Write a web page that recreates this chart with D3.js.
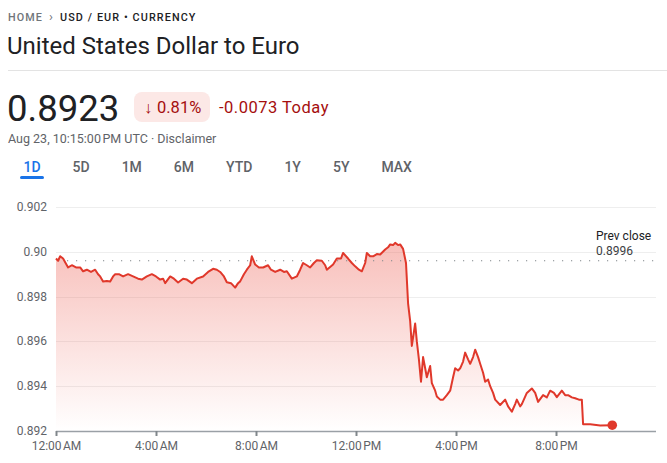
<!DOCTYPE html>
<html>
<head>
<meta charset="utf-8">
<script src="https://cdn.jsdelivr.net/npm/d3@7"></script>
<style>
  html, body { margin: 0; padding: 0; background: #fff; }
  svg { display: block; font-family: Roboto, Arial, sans-serif; }
</style>
</head>
<body>
<svg id="chart" width="667" height="463"></svg>
<script>
// ---- Data ----
const minutes = [0,5,10,17,29,38,48,58,65,74,84,94,101,106,113,122,130,137,142,151,161,173,185,197,206,218,230,240,250,257,262,274,283,293,305,314,326,338,353,365,377,386,394,403,410,420,430,437,442,451,458,466,470,478,487,497,509,516,526,538,547,554,566,578,586,593,602,610,619,626,638,646,650,665,674,684,689,701,710,718,727,734,742,746,754,761,770,778,790,797,802,809,814,821,826,833,840,845,850,854,862,866,871,876,881,886,890,898,902,910,914,922,929,938,946,953,958,965,970,977,982,989,994,1001,1006,1013,1018,1025,1030,1037,1042,1049,1054,1066,1078,1085,1094,1102,1106,1114,1118,1130,1142,1150,1157,1169,1178,1186,1195,1202,1214,1222,1229,1238,1246,1255,1262,1265,1282,1306,1335];
const rates = [0.8997,0.8996,0.8998,0.8997,0.8993,0.8994,0.8993,0.8993,0.89913,0.8992,0.8991,0.8992,0.8990,0.8989,0.89867,0.8987,0.89867,0.8989,0.8990,0.8990,0.8989,0.8990,0.8989,0.8988,0.89876,0.8989,0.8990,0.8989,0.89876,0.8988,0.8986,0.8989,0.8988,0.89863,0.8988,0.89876,0.8986,0.8988,0.8989,0.8991,0.89924,0.8992,0.8991,0.8989,0.89864,0.8986,0.8984,0.8986,0.89868,0.8990,0.8992,0.8994,0.8998,0.89943,0.8993,0.8993,0.8994,0.8992,0.8991,0.8992,0.8991,0.89913,0.8988,0.8989,0.8992,0.8995,0.8994,0.8993,0.8995,0.89962,0.8996,0.8994,0.8992,0.89943,0.8997,0.8997,0.89995,0.8997,0.8995,0.89935,0.8992,0.89913,0.8995,0.89995,0.8998,0.8998,0.8999,0.89988,0.9001,0.9002,0.90033,0.9003,0.9004,0.9003,0.90033,0.90013,0.8995,0.8977,0.8969,0.8958,0.8968,0.8960,0.8952,0.8942,0.8953,0.8948,0.8944,0.8949,0.89414,0.8938,0.89354,0.8934,0.8934,0.8936,0.8938,0.8944,0.8948,0.8947,0.8948,0.8951,0.8955,0.8952,0.8950,0.8953,0.89563,0.8953,0.8950,0.8946,0.8942,0.8943,0.8940,0.8937,0.8934,0.89316,0.8934,0.8931,0.89286,0.8932,0.8934,0.8931,0.8932,0.8937,0.8939,0.8937,0.8933,0.8936,0.8935,0.8938,0.8937,0.89351,0.8938,0.8936,0.8936,0.8935,0.89346,0.8934,0.8934,0.8923,0.8923,0.89225,0.89226];
const yTicks = [0.892, 0.894, 0.896, 0.898, 0.900, 0.902];
const yTickLabels = ["0.892", "0.894", "0.896", "0.898", "0.90", "0.902"];
const xTicks = [0, 240, 480, 720, 960, 1200];
const xTickLabels = ["12:00\u202FAM", "4:00\u202FAM", "8:00\u202FAM", "12:00\u202FPM", "4:00\u202FPM", "8:00\u202FPM"];
const prevClose = 0.8996;
const ranges = ["1D", "5D", "1M", "6M", "YTD", "1Y", "5Y", "MAX"];

const data = minutes.map((m, i) => ({ m, v: rates[i] }));

const svg = d3.select("#chart");
const red = "#e0382b";

// ---- Header ----
const bc = svg.append("text").attr("x", 8).attr("y", 21)
  .attr("font-size", 10.8).attr("font-weight", 500).attr("letter-spacing", 1.1);
bc.append("tspan").attr("fill", "#70757a").text("HOME");
bc.append("tspan").attr("fill", "#70757a").attr("dx", 6).attr("font-size", 13).attr("font-weight", 400).text("›");
bc.append("tspan").attr("fill", "#202124").attr("dx", 6).text("USD / EUR • CURRENCY");

svg.append("text").attr("x", 7).attr("y", 54).attr("font-size", 24)
  .attr("fill", "#202124").text("United States Dollar to Euro");

svg.append("line").attr("x1", 8).attr("x2", 667).attr("y1", 70.5).attr("y2", 70.5)
  .attr("stroke", "#e3e3e3");

svg.append("text").attr("x", 7).attr("y", 121).attr("font-size", 36.5)
  .attr("fill", "#202124").text("0.8923");

svg.append("rect").attr("x", 134).attr("y", 92).attr("width", 76).attr("height", 30)
  .attr("rx", 8).attr("fill", "#fce8e6");
svg.append("text").attr("x", 144).attr("y", 113).attr("font-size", 16.5).attr("font-weight", 700)
  .attr("fill", "#a50e0e").text("\u2193");
svg.append("text").attr("x", 157).attr("y", 113).attr("font-size", 16.5)
  .attr("fill", "#a50e0e").text("0.81%");
svg.append("text").attr("x", 219).attr("y", 113).attr("font-size", 16.5)
  .attr("letter-spacing", 0.5)
  .attr("fill", "#a50e0e").text("-0.0073 Today");

svg.append("text").attr("x", 8).attr("y", 143).attr("font-size", 12.5)
  .attr("fill", "#5f6368").text("Aug 23, 10:15:00\u202FPM UTC · Disclaimer");

// ---- Range tabs (laid out by measured text width plus a fixed gap) ----
const tabs = svg.append("g").selectAll("text").data(ranges).join("text")
  .attr("y", 172).attr("text-anchor", "middle")
  .attr("font-size", 14).attr("font-weight", 500)
  .attr("fill", d => d === "1D" ? "#1a73e8" : "#5f6368").text(d => d);
let cx = 32, prevW = null;
tabs.each(function () {
  const w = this.getComputedTextLength();
  if (prevW !== null) cx += prevW / 2 + 32 + w / 2;
  d3.select(this).attr("x", cx);
  prevW = w;
});
svg.append("rect").attr("x", 20).attr("y", 176).attr("width", 24).attr("height", 3)
  .attr("rx", 1.5).attr("fill", "#1a73e8");

// ---- Chart ----
const x = d3.scaleLinear().domain([0, 1440]).range([56, 656]);
const y = d3.scaleLinear().domain([0.892, 0.902]).range([431, 207]);

// gridlines
svg.append("g").selectAll("line").data(yTicks.filter(t => t > 0.892)).join("line")
  .attr("x1", 56).attr("x2", 656)
  .attr("y1", d => Math.round(y(d)) + 0.5).attr("y2", d => Math.round(y(d)) + 0.5)
  .attr("stroke", "#eeeeee");

// y labels
svg.append("g").selectAll("text").data(yTicks).join("text")
  .attr("x", 47).attr("y", d => y(d) + 4).attr("text-anchor", "end")
  .attr("font-size", 12).attr("fill", "#5f6368")
  .text((d, i) => yTickLabels[i]);

// area gradient
const defs = svg.append("defs");
const grad = defs.append("linearGradient").attr("id", "areaGrad")
  .attr("gradientUnits", "userSpaceOnUse")
  .attr("x1", 0).attr("x2", 0).attr("y1", y(0.9004)).attr("y2", y(0.892));
grad.append("stop").attr("offset", 0).attr("stop-color", "#ee675c").attr("stop-opacity", 0.42);
grad.append("stop").attr("offset", 1).attr("stop-color", "#ee675c").attr("stop-opacity", 0.0);

const area = d3.area().x(d => x(d.m)).y0(y(0.892)).y1(d => y(d.v));
svg.append("path").datum(data).attr("d", area).attr("fill", "url(#areaGrad)");

// prev close dotted line
svg.append("line").attr("x1", 58).attr("x2", 656)
  .attr("y1", y(prevClose)).attr("y2", y(prevClose))
  .attr("stroke", "#80868b").attr("stroke-width", 1.2)
  .attr("stroke-dasharray", "1.2,7.8");
svg.append("text").attr("x", 596).attr("y", 240).attr("font-size", 12)
  .attr("fill", "#202124").text("Prev close");
svg.append("text").attr("x", 596).attr("y", 255).attr("font-size", 12)
  .attr("fill", "#3c4043").text(d3.format(".4f")(prevClose));

// line
const line = d3.line().x(d => x(d.m)).y(d => y(d.v));
svg.append("path").datum(data).attr("d", line).attr("fill", "none")
  .attr("stroke", red).attr("stroke-width", 2).attr("stroke-linejoin", "round");

// x axis
const xAxis = d3.axisBottom(x).tickValues(xTicks).tickSize(5)
  .tickFormat((d, i) => xTickLabels[i]);
const gx = svg.append("g").attr("transform", `translate(0,${y(0.892)})`).call(xAxis);
gx.select(".domain").attr("stroke", "#9aa0a6").attr("stroke-width", 1.3)
  .attr("d", `M56,0.5H656`);
gx.selectAll(".tick line").attr("stroke", "#80868b").attr("stroke-width", 2);
gx.selectAll(".tick text").attr("font-size", 12).attr("fill", "#5f6368")
  .attr("font-family", "Roboto, Arial, sans-serif").attr("dy", "0.95em");

// end dot
const last = data[data.length - 1];
svg.append("circle").attr("cx", x(last.m)).attr("cy", y(last.v)).attr("r", 4.8)
  .attr("fill", red);
</script>
</body>
</html>
